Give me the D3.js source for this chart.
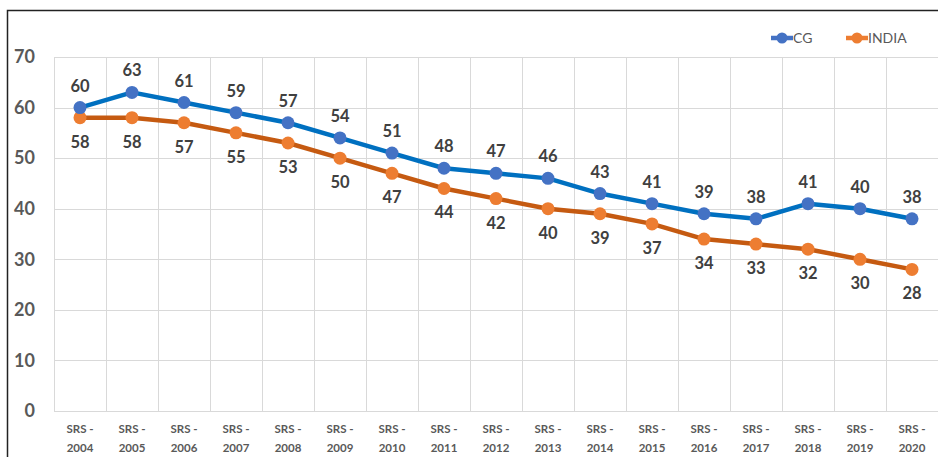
<!DOCTYPE html>
<html>
<head>
<meta charset="utf-8">
<script src="https://cdn.jsdelivr.net/npm/d3@7"></script>
<style>
  html, body { margin: 0; padding: 0; background: #fff; }
  svg { display: block; }
</style>
</head>
<body>
<svg id="chart" width="938" height="457"></svg>
<script>
// Survey rounds along the x axis
const categories = ["2004","2005","2006","2007","2008","2009","2010","2011","2012",
                    "2013","2014","2015","2016","2017","2018","2019","2020"];
// Values per round
const cgValues    = [60,63,61,59,57,54,51,48,47,46,43,41,39,38,41,40,38];
const indiaValues = [58,58,57,55,53,50,47,44,42,40,39,37,34,33,32,30,28];
const yTicks = [0,10,20,30,40,50,60,70];
const seriesNames = ["CG","INDIA"];

const W = 938, H = 457;
const margin = { left: 54, right: 0, top: 57, bottom: 46 };
const svg = d3.select("#chart");

// outer frame
svg.append("rect").attr("x", 7.5).attr("y", 10.5).attr("width", 940).attr("height", 460)
  .attr("fill", "none").attr("stroke", "#222").attr("stroke-width", 1.5);

const x = d3.scaleBand().domain(categories).range([margin.left, W - margin.right]);
const y = d3.scaleLinear().domain([0, 70]).range([H - margin.bottom, margin.top]);

const grid = svg.append("g");
// horizontal gridlines
grid.selectAll("line.h").data(yTicks).join("line")
  .attr("x1", margin.left).attr("x2", W)
  .attr("y1", d => Math.round(y(d)) + 0.5).attr("y2", d => Math.round(y(d)) + 0.5)
  .attr("stroke", "#d9d9d9").attr("stroke-width", 1);
// vertical gridlines at category boundaries
grid.selectAll("line.v").data(categories).join("line")
  .attr("x1", d => Math.round(x(d)) + 0.5).attr("x2", d => Math.round(x(d)) + 0.5)
  .attr("y1", y(70)).attr("y2", y(0))
  .attr("stroke", "#d9d9d9").attr("stroke-width", 1);

// y axis labels
const yAxis = d3.axisLeft(y).tickValues(yTicks).tickSize(0).tickPadding(0);
const yg = svg.append("g").attr("transform", `translate(35,0)`).call(yAxis);
yg.select(".domain").remove();
yg.selectAll("text").attr("font-family", "Lato, 'Open Sans', sans-serif")
  .attr("font-weight", "bold").attr("font-size", 18).attr("fill", "#595959");

// x axis labels: "SRS -" over the year
const xAxis = d3.axisBottom(x).tickSize(0).tickFormat("");
const xg = svg.append("g").attr("transform", `translate(0,${y(0)})`).call(xAxis);
xg.select(".domain").remove();
xg.selectAll(".tick").each(function(d) {
  const t = d3.select(this).append("text")
    .attr("text-anchor", "middle").attr("fill", "#595959")
    .attr("font-family", "Lato, 'Open Sans', sans-serif")
    .attr("font-weight", "bold").attr("font-size", 11.5);
  t.append("tspan").attr("x", 0).attr("y", 22).text("SRS -");
  t.append("tspan").attr("x", 0).attr("y", 41).text(d);
});

const cx = d => x(d) + x.bandwidth() / 2;
const series = [
  { name: seriesNames[0], values: cgValues, line: "#0070c0", dot: "#4472c4", dy: -16 },
  { name: seriesNames[1], values: indiaValues, line: "#c55a11", dot: "#ed7d31", dy: 30 }
];

const lineGen = d3.line().x(d => cx(d.c)).y(d => y(d.v));

// draw INDIA first so CG sits on top
[series[1], series[0]].forEach(s => {
  const pts = categories.map((c, i) => ({ c, v: s.values[i] }));
  svg.append("path").datum(pts).attr("d", lineGen)
    .attr("fill", "none").attr("stroke", s.line).attr("stroke-width", 4.5)
    .attr("stroke-linejoin", "round");
  svg.append("g").selectAll("circle").data(pts).join("circle")
    .attr("cx", d => cx(d.c)).attr("cy", d => y(d.v)).attr("r", 6.5)
    .attr("fill", s.dot);
  svg.append("g").selectAll("text").data(pts).join("text")
    .attr("x", d => cx(d.c)).attr("y", d => y(d.v) + s.dy)
    .attr("text-anchor", "middle").attr("fill", "#404040")
    .attr("font-family", "Lato, 'Open Sans', sans-serif")
    .attr("font-weight", "bold").attr("font-size", 16.5)
    .text(d => d.v);
});

// legend
const legend = svg.append("g");
const legendItems = [
  { s: series[0], x0: 771 },
  { s: series[1], x0: 846 }
];
legendItems.forEach(({ s, x0 }) => {
  const g = legend.append("g").attr("transform", `translate(${x0},38)`);
  g.append("line").attr("x1", 0).attr("x2", 22).attr("y1", 0).attr("y2", 0)
    .attr("stroke", s.line === "#0070c0" ? "#4472c4" : "#ed7d31").attr("stroke-width", 4.5);
  g.append("circle").attr("cx", 11).attr("cy", 0).attr("r", 5.5).attr("fill", s.dot);
  g.append("text").attr("x", 22).attr("y", 5).attr("fill", "#595959")
    .attr("font-family", "Lato, 'Open Sans', sans-serif").attr("font-size", 14)
    .text(s.name);
});
</script>
</body>
</html>
